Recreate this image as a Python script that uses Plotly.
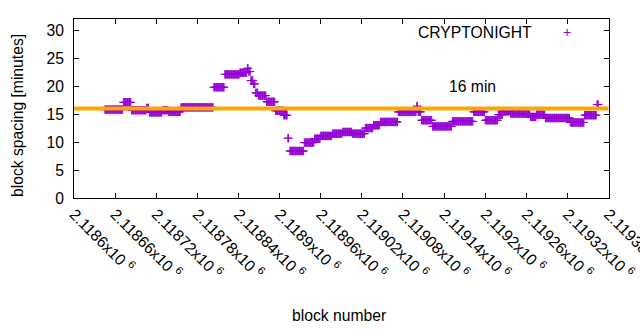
import plotly.graph_objects as go

# Runs of consecutive blocks with (approximately) constant block spacing
seg_start = [2118645, 2118672, 2118684, 2118706, 2118710, 2118729, 2118738, 2118756,
             2118804, 2118820, 2118842, 2118853, 2118855, 2118858, 2118862, 2118865,
             2118869, 2118881, 2118894, 2118906, 2118912, 2118915, 2118936, 2118951,
             2118960, 2118977, 2118992, 2119006, 2119025, 2119037, 2119047, 2119073,
             2119100, 2119102, 2119107, 2119123, 2119152, 2119183, 2119200, 2119219,
             2119226, 2119237, 2119266, 2119275, 2119288, 2119324, 2119345, 2119363]
seg_end = [2118671, 2118683, 2118705, 2118709, 2118728, 2118737, 2118755, 2118803,
           2118819, 2118841, 2118852, 2118854, 2118857, 2118861, 2118864, 2118868,
           2118880, 2118893, 2118905, 2118911, 2118913, 2118935, 2118950, 2118959,
           2118976, 2118991, 2119005, 2119024, 2119036, 2119046, 2119072, 2119099,
           2119101, 2119106, 2119122, 2119151, 2119182, 2119199, 2119218, 2119225,
           2119236, 2119265, 2119274, 2119287, 2119323, 2119344, 2119362, 2119365]
seg_value = [15.8, 17.1, 15.7, 16.1, 15.3, 15.7, 15.4, 16.2,
             19.8, 22.1, 22.4, 23.2, 22.6, 21.0, 20.4, 18.8,
             18.3, 17.2, 15.6, 14.8, 10.7, 8.4, 9.9, 10.6,
             11.1, 11.5, 11.8, 11.5, 12.5, 13.0, 13.6, 15.4,
             16.4, 15.4, 13.9, 12.8, 13.7, 15.4, 13.9, 14.9,
             15.5, 15.1, 14.5, 14.9, 14.3, 13.5, 14.8, 16.7]

target_minutes = 16
x_ticks = [2118600, 2118660, 2118720, 2118780, 2118840, 2118900, 2118960,
           2119020, 2119080, 2119140, 2119200, 2119260, 2119320, 2119380]
x_tick_labels = ["2.1186", "2.11866", "2.11872", "2.11878", "2.11884", "2.1189", "2.11896",
                 "2.11902", "2.11908", "2.11914", "2.1192", "2.11926", "2.11932", "2.11938"]
y_ticks = [0, 5, 10, 15, 20, 25, 30]

blocks, spacing = [], []
for s, e, v in zip(seg_start, seg_end, seg_value):
    for b in range(s, e + 1):
        blocks.append(b)
        spacing.append(v)

FONT = "Liberation Sans, Arial, sans-serif"
PURPLE = "#9400D3"
ORANGE = "#FFA500"
FS = 15.7

fig = go.Figure()
fig.add_trace(go.Scatter(
    x=blocks, y=spacing, mode="markers",
    marker=dict(symbol="cross-thin-open", size=6, color=PURPLE,
                line=dict(color=PURPLE, width=1)),
    showlegend=False, hoverinfo="skip"))
fig.add_trace(go.Scatter(
    x=[x_ticks[0], x_ticks[-1]], y=[target_minutes, target_minutes], mode="lines",
    line=dict(color=ORANGE, width=4), showlegend=False, hoverinfo="skip"))

fig.update_layout(
    width=640, height=330,
    margin=dict(l=74, r=31, t=19, b=132),
    paper_bgcolor="white", plot_bgcolor="white",
    font=dict(family=FONT, size=FS, color="black"),
    xaxis=dict(range=[x_ticks[0], x_ticks[-1] + 0.6], tickmode="array", tickvals=x_ticks,
               ticktext=[t + "x10 <sup>6</sup>" for t in x_tick_labels],
               tickangle=45, ticks="inside", ticklen=5, tickcolor="black",
               showline=True, linecolor="black", linewidth=1, mirror="allticks",
               showgrid=False, zeroline=False, tickfont=dict(size=FS),
               automargin=False, ticklabeloverflow="allow"),
    yaxis=dict(range=[0, 32], tickmode="array", tickvals=y_ticks,
               ticks="inside", ticklen=5, tickcolor="black",
               showline=True, linecolor="black", linewidth=1, mirror="allticks",
               showgrid=False, zeroline=False, tickfont=dict(size=FS),
               ticklabelstandoff=6, automargin=False),
    annotations=[
        dict(text="block spacing [minutes]", textangle=-90, xref="paper", yref="paper",
             x=-0.106, y=0.46, xanchor="center", yanchor="middle", showarrow=False,
             font=dict(size=FS)),
        dict(text="block number", xref="paper", yref="paper", x=0.496, y=-0.654,
             xanchor="center", yanchor="middle", showarrow=False, font=dict(size=FS)),
        dict(text="CRYPTONIGHT", xref="paper", yref="paper", x=0.7495, y=0.927,
             xanchor="center", yanchor="middle", showarrow=False, font=dict(size=FS)),
        dict(text="+", xref="paper", yref="paper", x=0.9215, y=0.927,
             xanchor="center", yanchor="middle", showarrow=False,
             font=dict(size=14, color=PURPLE)),
        dict(text="16 min", x=2119182, y=20, xanchor="center", yanchor="middle",
             showarrow=False, font=dict(size=FS)),
    ],
)

fig.write_html("out.html")
